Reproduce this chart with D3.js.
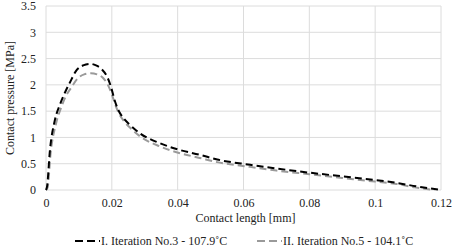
<!DOCTYPE html>
<html>
<head>
<meta charset="utf-8">
<script src="https://cdn.jsdelivr.net/npm/d3@7"></script>
<style>
  body { margin: 0; background: #fff; }
</style>
</head>
<body>
<svg id="drawing_region"></svg>
<script>
// contact length [mm]
const lengthI = [0, 0.0003, 0.0012, 0.0027, 0.0042, 0.0058, 0.0073, 0.0093, 0.0113, 0.0134, 0.0152, 0.0169, 0.0186, 0.0198, 0.0207, 0.0219, 0.0235, 0.0255, 0.0285, 0.0346, 0.0407, 0.0467, 0.052, 0.062, 0.07, 0.08, 0.09, 0.1, 0.106, 0.1125, 0.12];
const pressureI = [0, 0.06, 0.76, 1.33, 1.62, 1.86, 2.05, 2.28, 2.37, 2.40, 2.37, 2.30, 2.15, 1.95, 1.74, 1.53, 1.37, 1.24, 1.08, 0.89, 0.76, 0.67, 0.58, 0.48, 0.41, 0.33, 0.26, 0.19, 0.14, 0.07, 0];

const lengthII = [0, 0.0005, 0.0014, 0.003, 0.0045, 0.006, 0.0077, 0.0096, 0.0116, 0.0136, 0.0155, 0.0172, 0.0188, 0.02, 0.021, 0.0222, 0.0238, 0.0258, 0.0288, 0.0346, 0.0407, 0.0467, 0.052, 0.062, 0.07, 0.08, 0.09, 0.1, 0.106, 0.112, 0.118];
const pressureII = [0, 0.05, 0.70, 1.25, 1.55, 1.78, 1.95, 2.12, 2.20, 2.22, 2.20, 2.14, 2.00, 1.82, 1.63, 1.45, 1.30, 1.17, 1.01, 0.83, 0.70, 0.61, 0.53, 0.44, 0.37, 0.30, 0.23, 0.16, 0.12, 0.05, 0];

const xTicks = [0, 0.02, 0.04, 0.06, 0.08, 0.1, 0.12];
const yTicks = [0, 0.5, 1, 1.5, 2, 2.5, 3, 3.5];

const seriesNames = ["I. Iteration No.3 - 107.9˚C", "II. Iteration No.5 - 104.1˚C"];
const seriesColors = ["#000000", "#9a9a9a"];

const width = 454, height = 250;
const margin = {top: 6, right: 13, bottom: 60, left: 46};
const innerW = width - margin.left - margin.right;
const innerH = height - margin.top - margin.bottom;
const fontFamily = '"Liberation Serif", serif';

const svg = d3.select("#drawing_region")
    .attr("width", width)
    .attr("height", height);

const chart = svg.append("g")
    .attr("transform", `translate(${margin.left}, ${margin.top})`);

const xscale = d3.scaleLinear().domain([0, 0.12]).range([0, innerW]);
const yscale = d3.scaleLinear().domain([0, 3.5]).range([innerH, 0]);

// grid
chart.append("g")
    .selectAll("line")
    .data(xTicks)
    .join("line")
    .attr("x1", d => xscale(d)).attr("x2", d => xscale(d))
    .attr("y1", 0).attr("y2", innerH)
    .attr("stroke", "#dcdcdc").attr("stroke-width", 1);

chart.append("g")
    .selectAll("line")
    .data(yTicks)
    .join("line")
    .attr("x1", 0).attr("x2", innerW)
    .attr("y1", d => yscale(d)).attr("y2", d => yscale(d))
    .attr("stroke", "#dcdcdc").attr("stroke-width", 1);

// axes (labels only)
const xaxis = d3.axisBottom(xscale).tickValues(xTicks).tickSize(0).tickPadding(8)
    .tickFormat(d => d3.format("~g")(d));
const xaxis_group = chart.append("g")
    .attr("transform", `translate(0, ${innerH})`)
    .call(xaxis);

const yaxis = d3.axisLeft(yscale).tickValues(yTicks).tickSize(0).tickPadding(10)
    .tickFormat(d => d3.format("~g")(d));
const yaxis_group = chart.append("g").call(yaxis);

[xaxis_group, yaxis_group].forEach(g => {
    g.attr("font-family", null).attr("font-size", null);
    g.select(".domain").remove();
});

// series
const line = d3.line()
    .x(d => xscale(d[0]))
    .y(d => yscale(d[1]))
    .curve(d3.curveMonotoneX);

const series = [
    d3.zip(lengthII, pressureII),
    d3.zip(lengthI, pressureI)
];
const seriesColorOrder = [seriesColors[1], seriesColors[0]];

chart.selectAll(".series")
    .data(series)
    .join("path")
    .attr("class", "series")
    .attr("d", line)
    .attr("fill", "none")
    .attr("stroke", (d, i) => seriesColorOrder[i])
    .attr("stroke-width", 2)
    .attr("stroke-dasharray", "7,4");

// axis titles
svg.append("text")
    .attr("x", margin.left + innerW / 2 + 2)
    .attr("y", 222)
    .attr("text-anchor", "middle")
    .text("Contact length [mm]");

svg.append("text")
    .attr("transform", `translate(14, ${margin.top + innerH / 2}) rotate(-90)`)
    .attr("text-anchor", "middle")
    .text("Contact pressure [MPa]");

// legend
const legendX = [75, 257];
const legend = svg.append("g")
    .selectAll("g")
    .data(seriesNames)
    .join("g")
    .attr("transform", (d, i) => `translate(${legendX[i]}, 241)`);

legend.append("line")
    .attr("x1", 0).attr("x2", 25)
    .attr("y1", 0).attr("y2", 0)
    .attr("stroke", (d, i) => seriesColors[i])
    .attr("stroke-width", 2)
    .attr("stroke-dasharray", "8,4");

legend.append("text")
    .attr("x", 26)
    .attr("y", 4)
    .text(d => d);

// one font for every text
svg.selectAll("text")
    .style("font-family", fontFamily)
    .style("font-size", "12px")
    .style("fill", "#222");
</script>
</body>
</html>
